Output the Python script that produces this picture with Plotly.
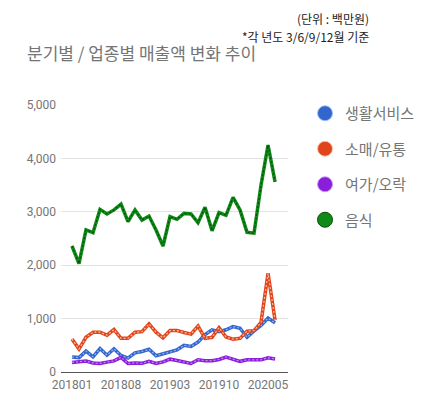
import plotly.graph_objects as go

months = [f"{y}{m:02d}" for y, m in
          [(2018, m) for m in range(1, 13)] + [(2019, m) for m in range(1, 13)] + [(2020, m) for m in range(1, 7)]]
tick_labels = ["201801", "201808", "201903", "201910", "202005"]

series_names = ["생활서비스", "소매/유통", "여가/오락", "음식"]
living = [280, 270, 390, 285, 440, 315, 435, 310, 260, 360, 385, 425, 305, 345, 370,
          415, 500, 480, 560, 700, 790, 755, 790, 850, 820, 650, 770, 870, 1010, 920]
retail = [620, 430, 650, 745, 745, 690, 795, 630, 630, 745, 755, 900, 745, 640, 775,
          775, 740, 710, 860, 630, 650, 830, 655, 615, 630, 765, 775, 930, 1850, 970]
leisure = [180, 188, 205, 170, 160, 185, 208, 275, 160, 170, 162, 200, 162, 190, 240,
           215, 185, 160, 230, 212, 212, 235, 280, 235, 200, 228, 228, 228, 265, 245]
food = [2360, 2030, 2660, 2610, 3045, 2960, 3035, 3145, 2815, 3035, 2845, 2920, 2660, 2360, 2910,
        2860, 2970, 2960, 2795, 3085, 2645, 2985, 2935, 3270, 3035, 2615, 2600, 3500, 4250, 3560]

values = [living, retail, leisure, food]
base_colors = ["#3366cc", "#e0441a", "#8b1ed8", "#0f8a17"]
stripe_colors = ["rgba(160,190,255,0.9)", "rgba(255,200,180,0.9)", "rgba(200,150,255,0.9)", "#064d09"]

fig = go.Figure()
for name, vals, c, s in zip(series_names, values, base_colors, stripe_colors):
    fig.add_trace(go.Scatter(x=months, y=vals, mode="lines", line=dict(color=c, width=3.5),
                             showlegend=False, hoverinfo="skip"))
    fig.add_trace(go.Scatter(x=months, y=vals, mode="lines", line=dict(color=s, width=1.2, dash="2px,2px"),
                             showlegend=False, hoverinfo="skip"))
    fig.add_trace(go.Scatter(x=[None], y=[None], mode="markers", name=name, legendgroup=name,
                             marker=dict(symbol="circle", size=15, color=c,
                                         line=dict(color=s, width=1))))

font_family = "Roboto, Noto Sans CJK KR, sans-serif"
fig.update_layout(
    width=430, height=400,
    margin=dict(l=53, r=150, t=97, b=36),
    paper_bgcolor="white", plot_bgcolor="white",
    font=dict(family=font_family, color="#757575", size=12),
    xaxis=dict(type="category", range=[-1.57, 30.85], tickmode="array", tickvals=tick_labels,
               ticktext=tick_labels, showgrid=False, showline=False, zeroline=False,
               ticklabelstandoff=4, tickfont=dict(size=12, color="#757575")),
    yaxis=dict(range=[0, 5000], tickvals=[0, 1000, 2000, 3000, 4000, 5000], tickformat=",",
               showgrid=True, gridcolor="#e3e3e3", gridwidth=1, zeroline=True, zerolinecolor="#555555",
               zerolinewidth=1, ticklabelstandoff=4, tickfont=dict(size=12, color="#757575")),
    legend=dict(x=1.075, y=1.03, xanchor="left", yanchor="top", tracegroupgap=13,
                font=dict(size=15, color="#757575", family="Noto Sans CJK KR, sans-serif"),
                itemsizing="trace", bgcolor="rgba(0,0,0,0)"),
    showlegend=True,
)
fig.add_annotation(text="분기별 / 업종별 매출액 변화 추이", xref="paper", yref="paper",
                   x=-(61 - 25) / 227, y=(372 - 53) / 267, xanchor="left", yanchor="middle",
                   showarrow=False, font=dict(size=17, color="#757575", family="Noto Sans CJK KR, sans-serif"))
fig.add_annotation(text="(단위 : 백만원)", xref="paper", yref="paper",
                   x=(371 - 61) / 227, y=(372 - 18) / 267, xanchor="right", yanchor="middle",
                   showarrow=False, font=dict(size=12, color="#222222", family="Noto Sans CJK KR, sans-serif"))
fig.add_annotation(text="*각 년도 3/6/9/12월 기준", xref="paper", yref="paper",
                   x=(371 - 61) / 227, y=(372 - 36) / 267, xanchor="right", yanchor="middle",
                   showarrow=False, font=dict(size=12, color="#222222", family="Noto Sans CJK KR, sans-serif"))

fig.write_html("out.html")
